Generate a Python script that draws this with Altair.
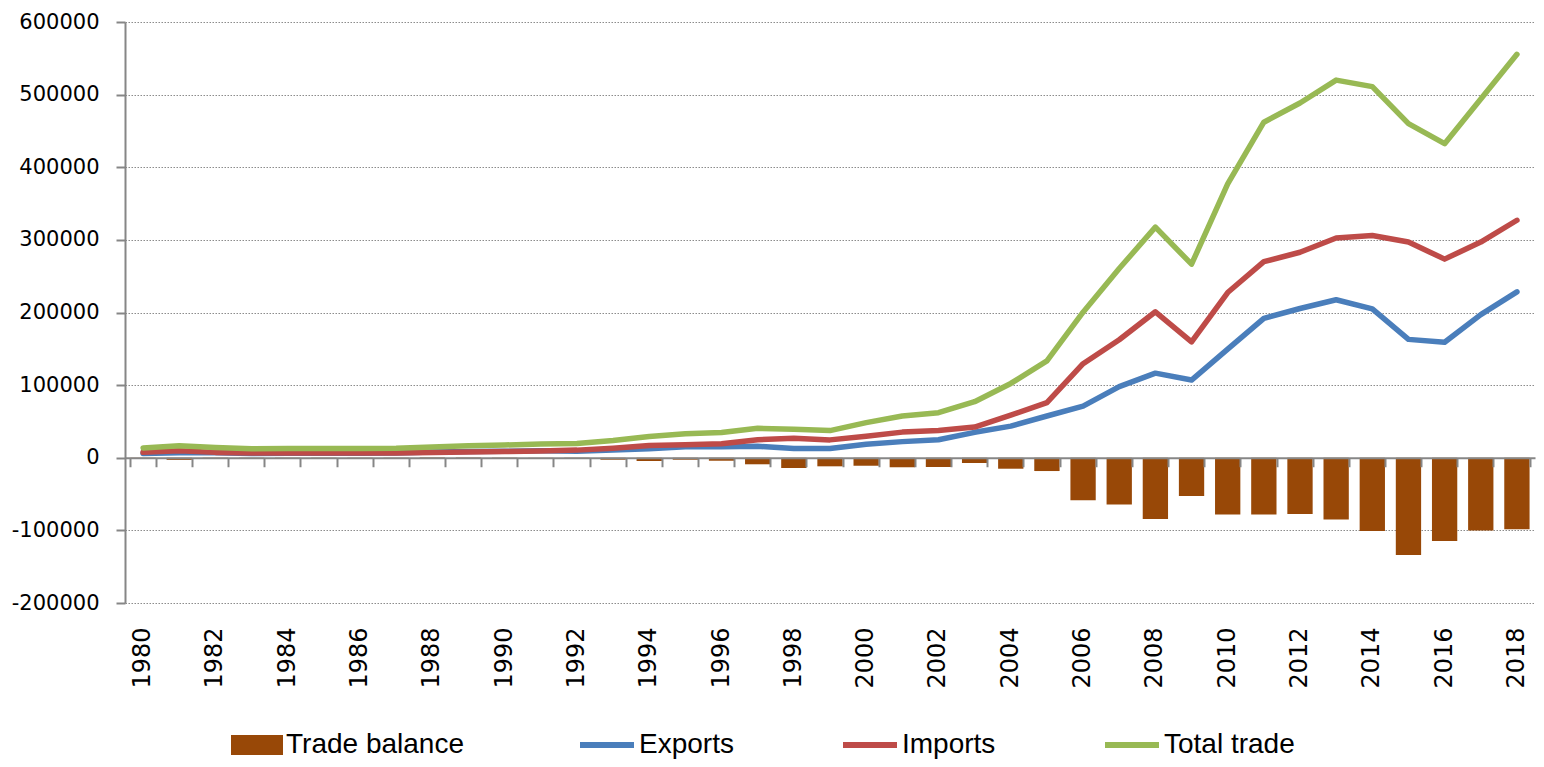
import altair as alt
import pandas as pd

years = list(range(1980, 2019))
exports = [6000, 6800, 6800, 6000, 6100, 6200, 6200, 6400, 7800, 8500,
           9000, 9500, 9000, 10500, 12300, 15100, 15300, 15800, 12600, 12800,
           18700, 22200, 24700, 35000, 43600, 57500, 71000, 98000, 116500, 107000,
           149500, 192000, 205500, 217500, 205000, 163000, 159000, 197000, 228500]
imports = [7500, 9700, 7400, 6400, 6500, 6600, 6500, 6700, 7100, 7900,
           8600, 9300, 10500, 13200, 16900, 17800, 19400, 24800, 26700, 24600,
           29700, 35300, 37400, 42200, 58700, 75800, 129500, 162500, 201000, 159500,
           227500, 270000, 283000, 302500, 306000, 297000, 273500, 297000, 327000]
total_trade = [13500, 16500, 14200, 12400, 12600, 12800, 12700, 13100, 14900, 16400,
               17600, 18800, 19500, 23700, 29200, 32900, 34700, 40600, 39300, 37400,
               48400, 57500, 62100, 77200, 102300, 133300, 200500, 260500, 317500, 266500,
               377000, 462000, 488500, 520000, 511000, 460000, 432500, 494000, 555500]
trade_balance = [-1500, -2900, -600, -400, -400, -400, -300, -300, 700, 600,
                 400, 200, -1500, -2700, -4600, -2700, -4100, -9000, -14100, -11800,
                 -11000, -13100, -12700, -7200, -15100, -18300, -58500, -64500, -84500, -52500,
                 -78000, -78000, -77500, -85000, -101000, -134000, -114500, -100000, -98500]

tick_years = list(range(1980, 2019, 2))
y_ticks = [-200000, -100000, 0, 100000, 200000, 300000, 400000, 500000, 600000]
series_names = ["Exports", "Imports", "Total trade"]
series_colors = ["#4A7EBB", "#BE4B48", "#98B954"]
bar_name = "Trade balance"
bar_color = "#984807"

W, H = 1410, 581
zero_offset = -H * 200000 / 800000

wide = pd.DataFrame({"year": years, "Exports": exports, "Imports": imports,
                     "Total trade": total_trade, "balance": trade_balance})
wide["bar_label"] = bar_name
long = wide.melt(id_vars="year", value_vars=series_names,
                 var_name="series", value_name="value")

x_scale = alt.Scale(paddingInner=0.3, paddingOuter=0.15)
y_scale = alt.Scale(domain=[-200000, 600000], nice=False, zero=False)

y_axis = alt.Axis(values=y_ticks, title=None, labelExpr="'' + datum.value",
                  labelFont="DejaVu Sans", labelFontSize=21, labelColor="#000000",
                  labelPadding=17, tickSize=9, tickColor="#868686", tickWidth=2,
                  domainColor="#868686", domainWidth=2, grid=True,
                  gridColor="#8c8c8c", gridDash=[1.5, 1.5], gridWidth=1.2)

label_axis = alt.Axis(values=tick_years, title=None, labelAngle=270,
                      labelAlign="right", labelBaseline="middle",
                      labelFont="DejaVu Sans", labelFontSize=24, labelColor="#000000",
                      labelPadding=24, ticks=False, tickSize=0, domain=False, grid=False)

zero_axis = alt.Axis(orient="bottom", offset=zero_offset, labels=False, ticks=True,
                     tickBand="extent", tickSize=9, tickColor="#868686", tickWidth=2,
                     domain=True, domainColor="#868686", domainWidth=2, grid=False,
                     title=None, zindex=1)

LEG_Y = 693

bars = alt.Chart(wide).mark_bar(opacity=1).encode(
    x=alt.X("year:O", scale=x_scale, axis=label_axis),
    y=alt.Y("balance:Q", scale=y_scale, axis=y_axis),
    fill=alt.Fill("bar_label:N",
                  scale=alt.Scale(domain=[bar_name], range=[bar_color]),
                  legend=alt.Legend(orient="none", legendX=106, legendY=LEG_Y + 4, title=None,
                                    direction="horizontal", padding=0,
                                    symbolType="M-1,-0.385H1V0.385H-1Z", symbolSize=2704,
                                    symbolStrokeWidth=0, symbolOpacity=1,
                                    labelFont="Liberation Sans", labelFontSize=28,
                                    labelLimit=400,
                                    labelColor="#000000", labelOffset=3)),
)

lines = alt.Chart(long).mark_line(strokeWidth=5.5, strokeJoin="round", strokeCap="round").encode(
    x=alt.X("year:O", scale=x_scale, axis=zero_axis),
    y=alt.Y("value:Q", scale=y_scale, axis=y_axis),
    stroke=alt.Stroke("series:N",
                      scale=alt.Scale(domain=series_names, range=series_colors),
                      legend=alt.Legend(orient="none", legendX=452, legendY=LEG_Y, title=None,
                                        direction="horizontal", padding=0, columnPadding=97,
                                        symbolType="stroke", symbolSize=2916,
                                        symbolStrokeWidth=6, labelLimit=400,
                                        labelFont="Liberation Sans", labelFontSize=28,
                                        labelColor="#000000", labelOffset=2)),
)

chart = alt.layer(bars, lines).resolve_axis(x="independent").properties(
    width=W, height=H,
    padding={"left": 117, "top": 14, "right": 1, "bottom": 156},
    autosize=alt.AutoSizeParams(type="none"),
    background="white",
).configure_view(stroke=None)

chart.save("out.html", embed_options={"renderer": "svg", "actions": False})
